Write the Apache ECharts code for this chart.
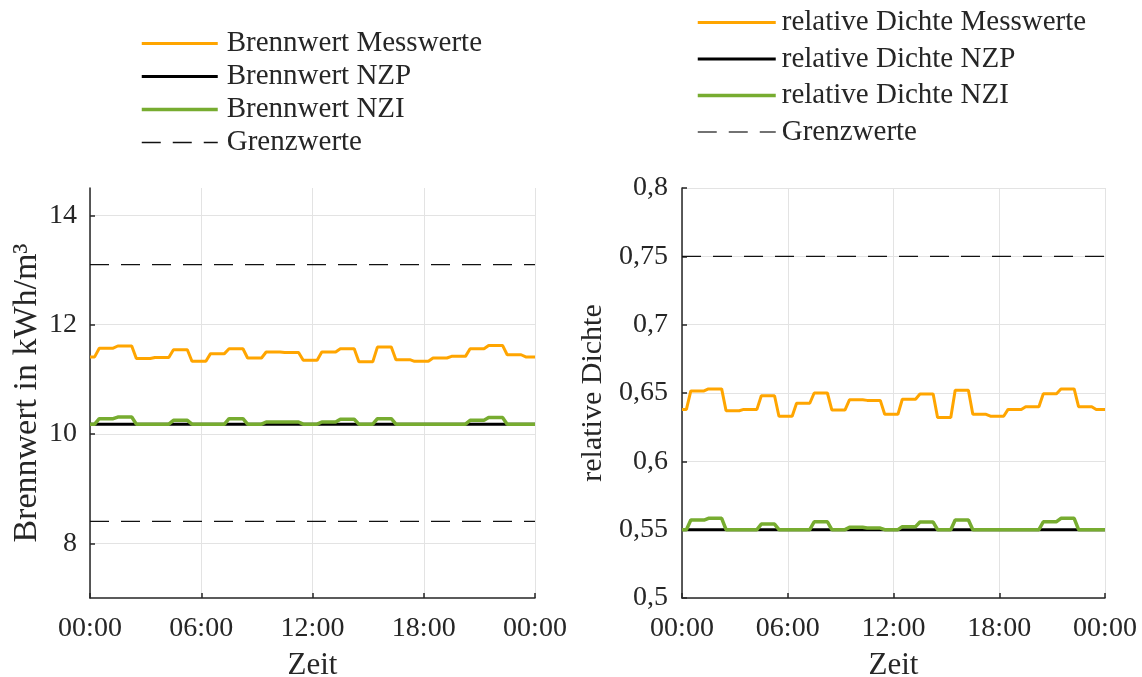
<!DOCTYPE html>
<html>
<head>
<meta charset="utf-8">
<script src="https://cdn.jsdelivr.net/npm/echarts@6/dist/echarts.min.js"></script>
<style>
  html, body { margin: 0; padding: 0; background: #fff; }
  #chart { width: 1142px; height: 677px; }
</style>
</head>
<body>
<div id="chart"></div>
<script>
// Hourly readings over one day (index = hour 0..24)
const hours = [0,1,2,3,4,5,6,7,8,9,10,11,12,13,14,15,16,17,18,19,20,21,22,23,24];

// Brennwert in kWh/m³
const brennwertMess = [11.41,11.57,11.61,11.38,11.40,11.54,11.33,11.47,11.56,11.39,11.50,11.49,11.35,11.50,11.56,11.32,11.59,11.36,11.33,11.39,11.42,11.56,11.62,11.45,11.41];
const brennwertNZI  = [10.18,10.28,10.31,10.18,10.18,10.25,10.18,10.18,10.28,10.18,10.22,10.22,10.18,10.22,10.27,10.18,10.28,10.18,10.18,10.18,10.18,10.25,10.30,10.18,10.18];
const brennwertNZP  = 10.18;
const brennwertLimits = [8.4, 13.1];
const brennwertTicks = [8, 10, 12, 14];

// relative Dichte
const dichteMess = [0.638,0.6515,0.653,0.637,0.638,0.648,0.633,0.6425,0.650,0.6376,0.645,0.6446,0.6344,0.6454,0.6493,0.632,0.652,0.6344,0.633,0.638,0.640,0.6495,0.653,0.640,0.638];
const dichteNZI  = [0.55,0.557,0.5583,0.55,0.55,0.5541,0.55,0.55,0.5558,0.55,0.5517,0.5512,0.55,0.5522,0.5556,0.55,0.5571,0.55,0.55,0.55,0.55,0.5558,0.5583,0.55,0.55];
const dichteNZP  = 0.55;
const dichteLimits = [0.55, 0.75];

const timeTickLabels = ['00:00', '06:00', '12:00', '18:00', '00:00'];

const ORANGE = '#FFA500';
const GREEN = '#77AC30';
const INK = '#262626';
const FONT = "'Liberation Serif', 'DejaVu Serif', serif";
const DASH = [19, 12];

// Each hourly reading is held from half an hour before the hour until a
// quarter past it, then ramps to the next reading.
function plateaus(values) {
  const out = [];
  values.forEach((v, i) => {
    const t = hours[i];
    const start = Math.max(0, t - 0.5);
    const end = Math.min(24, t + 0.25);
    out.push([start, v], [end, v]);
  });
  return out;
}
function flat(v) { return [[0, v], [24, v]]; }

function xAxisFor(gridIndex) {
  return {
    gridIndex, type: 'value', min: 0, max: 24, interval: 6,
    name: 'Zeit', nameLocation: 'middle', nameGap: 52,
    nameTextStyle: { fontFamily: FONT, fontSize: 31, color: INK },
    axisLine: { show: true, lineStyle: { color: INK, width: 1.5 } },
    axisTick: { show: true, inside: true, length: 5, lineStyle: { color: INK, width: 1.5 } },
    axisLabel: {
      fontFamily: FONT, fontSize: 28, color: INK, margin: 17,
      formatter: v => timeTickLabels[Math.round(v / 6)]
    },
    splitLine: { show: true, lineStyle: { color: '#e3e3e3', width: 1 } }
  };
}

function legendItem(name, color, width, dashed) {
  return {
    name,
    itemStyle: { opacity: 0 },
    lineStyle: { color, width, type: dashed ? DASH : 'solid' }
  };
}

function legendText(gap) {
  return { fontFamily: FONT, fontSize: 29, color: INK, lineHeight: 29, padding: [0, 0, 0, gap] };
}

const lineBase = { type: 'line', symbol: 'none', showSymbol: false, animation: false, silent: true };

const option = {
  animation: false,
  backgroundColor: '#fff',
  textStyle: { fontFamily: FONT, color: INK },
  grid: [
    { left: 90, top: 188, width: 445, height: 410, outerBoundsMode: 'none' },
    { left: 682, top: 188, width: 423, height: 410, outerBoundsMode: 'none' }
  ],
  legend: [
    {
      orient: 'vertical', left: 140, top: 29, padding: 0,
      itemWidth: 76, itemHeight: 14, itemGap: 4,
      itemStyle: { opacity: 0 },
      textStyle: legendText(4),
      data: [
        legendItem('Brennwert Messwerte', ORANGE, 3),
        legendItem('Brennwert NZP', '#000', 3),
        legendItem('Brennwert NZI', GREEN, 3.5),
        legendItem('Grenzwerte', '#111', 1.3, true)
      ],
      selectedMode: false
    },
    {
      orient: 'vertical', left: 696, top: 8, padding: 0,
      itemWidth: 78, itemHeight: 14, itemGap: 7.5,
      itemStyle: { opacity: 0 },
      textStyle: legendText(1),
      data: [
        legendItem('relative Dichte Messwerte', ORANGE, 3),
        legendItem('relative Dichte NZP', '#000', 3),
        legendItem('relative Dichte NZI', GREEN, 3.5),
        legendItem('Grenzwerte', '#444', 1.3, true)
      ],
      selectedMode: false
    }
  ],
  xAxis: [xAxisFor(0), xAxisFor(1)],
  yAxis: [
    {
      gridIndex: 0, type: 'value', min: 7, max: 14.5,
      name: 'Brennwert in kWh/m³', nameLocation: 'middle', nameGap: 46,
      nameTextStyle: { fontFamily: FONT, fontSize: 34, color: INK },
      axisLine: { show: true, lineStyle: { color: INK, width: 1.5 } },
      axisTick: { show: true, inside: true, length: 5, lineStyle: { color: INK, width: 1.5 }, customValues: brennwertTicks },
      axisLabel: { fontFamily: FONT, fontSize: 28, color: INK, margin: 13, customValues: brennwertTicks },
      splitLine: { show: true, lineStyle: { color: '#e3e3e3', width: 1 } }
    },
    {
      gridIndex: 1, type: 'value', min: 0.5, max: 0.8, interval: 0.05,
      name: 'relative Dichte', nameLocation: 'middle', nameGap: 74,
      nameTextStyle: { fontFamily: FONT, fontSize: 30, color: INK },
      axisLine: { show: true, lineStyle: { color: INK, width: 1.5 } },
      axisTick: { show: true, inside: true, length: 5, lineStyle: { color: INK, width: 1.5 } },
      axisLabel: {
        fontFamily: FONT, fontSize: 28, color: INK, margin: 14,
        formatter: v => String(parseFloat(v.toFixed(2))).replace('.', ',')
      },
      splitLine: { show: true, lineStyle: { color: '#e3e3e3', width: 1 } }
    }
  ],
  series: [
    // Brennwert panel
    Object.assign({}, lineBase, { name: 'Brennwert Messwerte', xAxisIndex: 0, yAxisIndex: 0, z: 2,
      data: plateaus(brennwertMess), lineStyle: { color: ORANGE, width: 3 }, itemStyle: { color: ORANGE } }),
    Object.assign({}, lineBase, { name: 'Brennwert NZP', xAxisIndex: 0, yAxisIndex: 0, z: 3,
      data: flat(brennwertNZP), lineStyle: { color: '#000', width: 3 }, itemStyle: { color: '#000' } }),
    Object.assign({}, lineBase, { name: 'Brennwert NZI', xAxisIndex: 0, yAxisIndex: 0, z: 4,
      data: plateaus(brennwertNZI), lineStyle: { color: GREEN, width: 3.5 }, itemStyle: { color: GREEN } }),
    ...brennwertLimits.map(v => Object.assign({}, lineBase, { name: 'Grenzwerte', xAxisIndex: 0, yAxisIndex: 0, z: 2,
      data: flat(v), lineStyle: { color: '#111', width: 1.3, type: DASH }, itemStyle: { color: '#111' } })),

    // relative Dichte panel
    Object.assign({}, lineBase, { name: 'relative Dichte Messwerte', xAxisIndex: 1, yAxisIndex: 1, z: 2,
      data: plateaus(dichteMess), lineStyle: { color: ORANGE, width: 3 }, itemStyle: { color: ORANGE } }),
    ...dichteLimits.map(v => Object.assign({}, lineBase, { name: 'Grenzwerte', xAxisIndex: 1, yAxisIndex: 1, z: 2,
      data: flat(v), lineStyle: { color: '#111', width: 1.3, type: DASH }, itemStyle: { color: '#111' } })),
    Object.assign({}, lineBase, { name: 'relative Dichte NZP', xAxisIndex: 1, yAxisIndex: 1, z: 3,
      data: flat(dichteNZP), lineStyle: { color: '#000', width: 3 }, itemStyle: { color: '#000' } }),
    Object.assign({}, lineBase, { name: 'relative Dichte NZI', xAxisIndex: 1, yAxisIndex: 1, z: 4,
      data: plateaus(dichteNZI), lineStyle: { color: GREEN, width: 3.5 }, itemStyle: { color: GREEN } })
  ]
};

const chart = echarts.init(document.getElementById('chart'), null, { renderer: 'canvas' });
chart.setOption(option);
</script>
</body>
</html>
